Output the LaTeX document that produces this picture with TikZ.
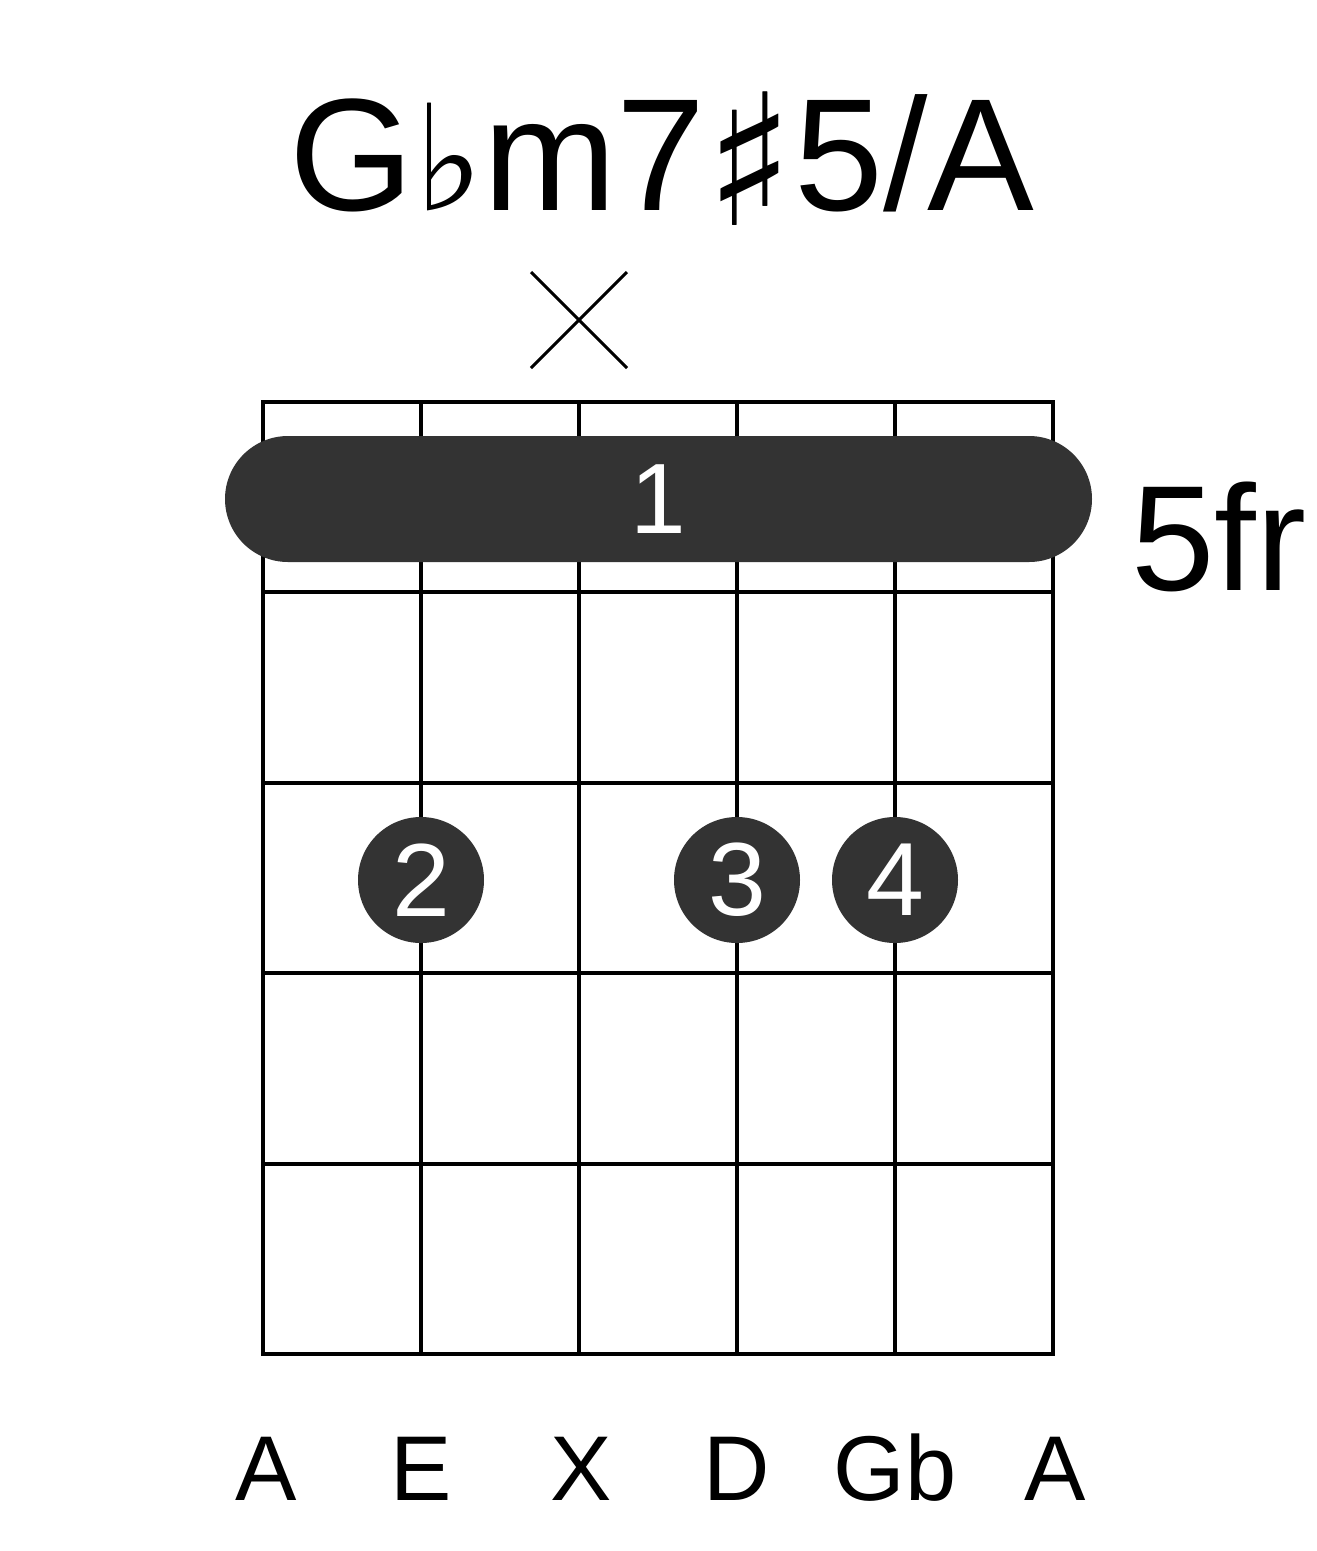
\documentclass[tikz,border=0pt]{standalone}
\usepackage{fontspec}
\setmainfont{Liberation Sans}
\newfontfamily\symfont{DejaVu Sans}
\definecolor{dotgray}{HTML}{333333}
\begin{document}
\begin{tikzpicture}[x=1pt,y=-1pt,
  gridline/.style={line width=4.4pt, line cap=rect},
  finger/.style={circle, fill=dotgray, minimum size=126pt, inner sep=0pt, text=white, font=\fontsize{104}{104}\selectfont},
  notelabel/.style={anchor=base, font=\fontsize{92}{92}\selectfont}]
\useasboundingbox (0,0) rectangle (1317,1551);
% title
\node[anchor=base] (title) at (662,210) {\fontsize{160}{160}\selectfont G{\symfont\fontsize{147}{147}\selectfont ♭}m7{\symfont\fontsize{183}{183}\selectfont\raisebox{-15pt}{♯}}5/A};
% muted string mark
\coordinate (x1) at (531,272); \coordinate (x2) at (627,368);
\coordinate (x3) at (531,368); \coordinate (x4) at (627,272);
\draw[line width=3pt] (x1) -- (x2) (x3) -- (x4);
% strings
\foreach \i/\x in {1/263,2/421,3/579,4/737,5/895,6/1053}{
  \coordinate (st\i) at (\x,402); \coordinate (sb\i) at (\x,1354);
  \draw[gridline] (st\i) -- (sb\i);
}
% frets
\foreach \j/\y in {0/402,1/592,2/783,3/973,4/1164,5/1354}{
  \coordinate (fl\j) at (263,\y); \coordinate (fr\j) at (1053,\y);
  \draw[gridline] (fl\j) -- (fr\j);
}
% barre
\fill[dotgray, rounded corners=63pt] (225,436) rectangle (1092,562);
\node[text=white, font=\fontsize{100}{100}\selectfont] (barre) at (658,499) {1};
\node[anchor=base west, font=\fontsize{150}{150}\selectfont] (fret) at (1128,590) {5fr};
% fingers
\node[finger] (f2) at (421,880) {2};
\node[finger] (f3) at (737,880) {3};
\node[finger] (f4) at (895,880) {4};
% string notes
\node[notelabel] (n1) at (266,1500) {A};
\node[notelabel] (n2) at (421,1500) {E};
\node[notelabel] (n3) at (581,1500) {X};
\node[notelabel] (n4) at (737,1500) {D};
\node[notelabel] (n5) at (895,1500) {Gb};
\node[notelabel] (n6) at (1055,1500) {A};
\end{tikzpicture}
\end{document}
